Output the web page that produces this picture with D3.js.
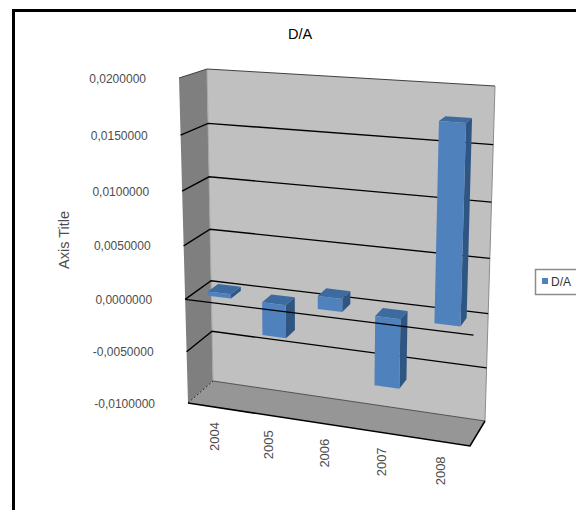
<!DOCTYPE html>
<html>
<head>
<meta charset="utf-8">
<script src="https://cdn.jsdelivr.net/npm/d3@7"></script>
<style>
  html, body { margin: 0; padding: 0; background: #fff; }
  svg { display: block; }
  text { font-family: "Liberation Sans", Arial, sans-serif; }
</style>
</head>
<body>
<svg id="chart" width="576" height="510"></svg>
<script>
// Series and labels
const years = ["2004", "2005", "2006", "2007", "2008"];
const values = [0.0004, -0.0031, 0.0012, -0.0064, 0.0175];
const axisDomain = [-0.01, 0.02];
const seriesName = "D/A";

const svg = d3.select("#chart");
const poly = d3.line();

// Corner points of the 3D box: bottom-left, bottom-right, top-right, top-left
const frontQuad = [[188, 403], [470, 446], [481, 97], [179, 78]];
const backQuad = [[213, 381], [485, 421], [495, 86], [207, 69]];

// Perspective map from the unit square onto a quadrilateral
function quadMap([p0, p1, p2, p3]) {
  const dx1 = p1[0] - p2[0], dx2 = p3[0] - p2[0], sx = p0[0] - p1[0] + p2[0] - p3[0];
  const dy1 = p1[1] - p2[1], dy2 = p3[1] - p2[1], sy = p0[1] - p1[1] + p2[1] - p3[1];
  const den = dx1 * dy2 - dx2 * dy1;
  const g = (sx * dy2 - dx2 * sy) / den, h = (dx1 * sy - sx * dy1) / den;
  const a = p1[0] - p0[0] + g * p1[0], b = p3[0] - p0[0] + h * p3[0];
  const d = p1[1] - p0[1] + g * p1[1], e = p3[1] - p0[1] + h * p3[1];
  return (u, v) => {
    const w = g * u + h * v + 1;
    return [(a * u + b * v + p0[0]) / w, (d * u + e * v + p0[1]) / w];
  };
}
const mapFront = quadMap(frontQuad), mapBack = quadMap(backQuad);

// Scales work in unit coordinates; depth runs 0 (front) to 1 (back)
const y = d3.scaleLinear().domain(axisDomain).range([0, 1]);
const x = d3.scaleBand().domain(years).range([0, 1]).paddingInner(0.57).paddingOuter(0.285);
const project = (u, value, depth) => {
  const f = mapFront(u, y(value)), b = mapBack(u, y(value));
  return [f[0] + (b[0] - f[0]) * depth, f[1] + (b[1] - f[1]) * depth];
};
const [yMin, yMax] = axisDomain;
const ticks = d3.range(0, 7).map(i => yMin + i * 0.005);
const fmt = d3.formatLocale({ decimal: ",", thousands: ".", grouping: [3], currency: ["", ""], minus: "-" }).format(".7f");

// Chart frame, open on the right and at the bottom
svg.append("path").attr("d", "M13.5,510V10.5H576").attr("fill", "none").attr("stroke", "#000").attr("stroke-width", 3);

svg.append("text").attr("x", 300).attr("y", 39).attr("text-anchor", "middle")
  .attr("font-size", 14.5).attr("fill", "#000").text(seriesName);

// Box walls
const face = (pts, fill) => svg.append("path").attr("d", poly(pts) + "Z").attr("fill", fill);
face([project(0, yMin, 0), project(0, yMin, 1), project(0, yMax, 1), project(0, yMax, 0)], "#7f7f7f");
face([project(0, yMin, 0), project(1, yMin, 0), project(1, yMin, 1), project(0, yMin, 1)], "#969696");
face([project(0, yMin, 1), project(1, yMin, 1), project(1, yMax, 1), project(0, yMax, 1)], "#c0c0c0");

const stroke = (pts, color, width, dash) => svg.append("path").attr("d", poly(pts))
  .attr("fill", "none").attr("stroke", color).attr("stroke-width", width).attr("stroke-dasharray", dash || null);

// Wall edges
stroke([project(0, yMin, 1), project(0, yMax, 1)], "#a6a6a6", 1);
stroke([project(1, yMin, 1), project(1, yMax, 1)], "#8c8c8c", 1);
stroke([project(0, yMax, 0), project(0, yMax, 1), project(1, yMax, 1)], "#404040", 1);
stroke([project(0, yMin, 1), project(1, yMin, 1)], "#505050", 1);
stroke([project(0, yMin, 0), project(0, yMin, 1)], "#222", 1, "2 2");
stroke([project(0, yMin, 0), project(1, yMin, 0), project(1, yMin, 1)], "#000", 1.5);

// Gridlines across the side and back walls
ticks.slice(1, -1).forEach(t => {
  stroke([project(0, t, 0), project(0, t, 1), project(1, t, 1)], "#000", 1.4);
});

// Bars, each with its front, top and right-hand faces
const depthFront = 0.3, depthBack = 0.7;
years.forEach((yr, i) => {
  const u0 = x(yr), u1 = u0 + x.bandwidth();
  const hi = Math.max(values[i], 0), lo = Math.min(values[i], 0);
  face([project(u1, lo, depthFront), project(u1, lo, depthBack), project(u1, hi, depthBack), project(u1, hi, depthFront)], "#2f5583");
  face([project(u0, hi, depthFront), project(u1, hi, depthFront), project(u1, hi, depthBack), project(u0, hi, depthBack)], "#3d6a9f");
  face([project(u0, lo, depthFront), project(u1, lo, depthFront), project(u1, hi, depthFront), project(u0, hi, depthFront)], "#4f81bd");
});

// Zero baseline along the front of the box
stroke([project(0, 0, 0), project(1, 0, 0)], "#000", 1.4);

// Value axis labels follow the front-left edge
const tickColor = "#4d4d4d";
ticks.forEach(t => {
  const p = project(0, t, 0);
  svg.append("text").attr("x", p[0] - 33).attr("y", p[1] + 4.5).attr("text-anchor", "end")
    .attr("font-size", 12).attr("fill", tickColor).text(fmt(Math.abs(t) < 1e-9 ? 0 : t));
});

// Category labels hang below the front floor edge
years.forEach(yr => {
  const p = project(x(yr) + x.bandwidth() / 2, yMin, 0);
  svg.append("text").attr("transform", `translate(${p[0] + 5},${p[1] + 15}) rotate(-90)`)
    .attr("text-anchor", "end").attr("font-size", 13).attr("fill", tickColor).text(yr);
});

svg.append("text").attr("transform", "translate(69,240) rotate(-90)").attr("text-anchor", "middle")
  .attr("font-size", 14.5).attr("fill", tickColor).text("Axis Title");

// Legend, clipped by the right edge of the page
const legend = svg.append("g");
legend.append("rect").attr("x", 535.5).attr("y", 269.5).attr("width", 60).attr("height", 25)
  .attr("fill", "#fff").attr("stroke", "#8c8c8c").attr("stroke-width", 1.5);
legend.append("rect").attr("x", 542).attr("y", 278).attr("width", 6).attr("height", 6).attr("fill", "#4f81bd");
legend.append("text").attr("x", 551).attr("y", 286).attr("font-size", 12).attr("fill", "#333").text(seriesName);
</script>
</body>
</html>
